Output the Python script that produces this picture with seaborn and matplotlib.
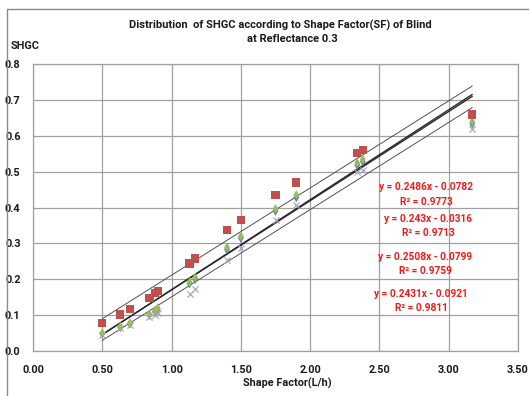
import numpy as np
import pandas as pd
import matplotlib
matplotlib.use("Agg")
import matplotlib.pyplot as plt
import seaborn as sns
from matplotlib.lines import Line2D

sns.set_theme(style="white")
plt.rcParams['font.family'] = ['Roboto', 'DejaVu Sans']

# ---- data ----
sf = [0.50, 0.63, 0.70, 0.84, 0.88, 0.90, 1.13, 1.17, 1.40, 1.50, 1.75, 1.90, 2.34, 2.38, 3.17]
shgc_red = [0.078, 0.102, 0.118, 0.147, 0.162, 0.168, 0.244, 0.258, 0.337, 0.366, 0.434, 0.470, 0.552, 0.561, 0.659]
shgc_blue = [0.048, 0.066, 0.076, 0.100, 0.110, 0.116, 0.188, 0.200, 0.283, 0.315, 0.390, 0.428, 0.518, 0.528, 0.633]
shgc_green = [0.050, 0.068, 0.078, 0.103, 0.113, 0.120, 0.192, 0.205, 0.289, 0.320, 0.396, 0.435, 0.524, 0.534, 0.639]
shgc_x = [0.045, 0.065, 0.072, 0.095, 0.100, 0.105, 0.160, 0.172, 0.253, 0.287, 0.365, 0.406, 0.500, 0.505, 0.618]

# trendline coefficients (slope, intercept) and labels
trend_slopes = [0.2486, 0.243, 0.2508, 0.2431]
trend_intercepts = [-0.0782, -0.0316, -0.0799, -0.0921]
trend_r2 = ["0.9773", "0.9713", "0.9759", "0.9811"]
trend_eq = ["y = 0.2486x - 0.0782", "y = 0.243x - 0.0316", "y = 0.2508x - 0.0799", "y = 0.2431x - 0.0921"]

x_ticks = [0.0, 0.5, 1.0, 1.5, 2.0, 2.5, 3.0, 3.5]
y_ticks = [0.0, 0.1, 0.2, 0.3, 0.4, 0.5, 0.6, 0.7, 0.8]

W, H = 529, 396
fig = plt.figure(figsize=(W / 100, H / 100), dpi=100)
ax = fig.add_axes([33 / W, 1 - 351 / H, (518 - 33) / W, (351 - 64) / H])

grid_c = "#a0a0a0"
ax.set_xlim(0, 3.5)
ax.set_ylim(0, 0.8)
ax.set_xticks(x_ticks)
ax.set_yticks(y_ticks)
ax.grid(True, color=grid_c, linewidth=0.9)
ax.set_axisbelow(True)
for s in ax.spines.values():
    s.set_color(grid_c)
    s.set_linewidth(0.9)

# trendlines
line_x = np.array([min(sf), max(sf)])
lw_list = [1.0, 0.7, 1.0, 0.7]
col_list = ["#2a2a2a", "#505050", "#2a2a2a", "#505050"]
for m, b, lw, c in zip(trend_slopes, trend_intercepts, lw_list, col_list):
    df_l = pd.DataFrame({"x": line_x, "y": m * line_x + b})
    sns.lineplot(data=df_l, x="x", y="y", ax=ax, color=c, linewidth=lw, zorder=2)

# scatter series
sns.scatterplot(x=sf, y=shgc_blue, ax=ax, marker="d", s=24, color="#4F81BD",
                edgecolor="none", zorder=3)
sns.scatterplot(x=sf, y=shgc_x, ax=ax, marker="x", s=20, color="#aaa6c8",
                linewidth=0.9, zorder=3)
sns.scatterplot(x=sf, y=shgc_green, ax=ax, marker="d", s=24, color="#9BBB59",
                edgecolor="none", zorder=4)
sns.scatterplot(x=sf, y=shgc_red, ax=ax, marker="s", s=36, color="#C0504D",
                edgecolor="none", zorder=5)

tick_font = dict(fontsize=7.8, fontweight="bold", color="#1a1a1a")
ax.set_xticklabels([f"{v:.2f}" for v in x_ticks], **tick_font)
ax.set_yticklabels([f"{v:.1f}" for v in y_ticks], **tick_font)
ax.tick_params(axis="both", which="both", direction="out", length=4, width=0.9,
               color=grid_c, pad=6)
ax.tick_params(axis="y", pad=5)
ax.set_xlabel("")
ax.set_ylabel("")

# titles and labels
title_font = dict(fontsize=8, fontweight="bold", color="#1a1a1a")
fig.text(280 / W, 1 - 25 / H, "Distribution  of SHGC according to Shape Factor(SF) of Blind",
         ha="center", va="center", **title_font)
fig.text(292 / W, 1 - 39 / H, "at Reflectance 0.3", ha="center", va="center", **title_font)
fig.text(11 / W, 1 - 46 / H, "SHGC", ha="left", va="center", **tick_font)
fig.text(287 / W, 1 - 383 / H, "Shape Factor(L/h)", ha="center", va="center", **tick_font)

# equation annotations
red_font = dict(fontsize=7.3, fontweight="bold", color="#ee1c1c")
eq_pos = [(426, 187, 202), (428, 219, 233), (425, 257, 271), (421, 294, 308)]
for (cx, y1, y2), eq, r2 in zip(eq_pos, trend_eq, trend_r2):
    fig.text(cx / W, 1 - y1 / H, eq, ha="center", va="center", **red_font)
    fig.text(cx / W, 1 - y2 / H, "R\u00b2 = " + r2, ha="center", va="center", **red_font)

# outer chart border (top & left visible)
fig.add_artist(Line2D([7 / W, 1], [1 - 9 / H, 1 - 9 / H], transform=fig.transFigure,
                      color="#8a8a8a", linewidth=1.0))
fig.add_artist(Line2D([7 / W, 7 / W], [0, 1 - 9 / H], transform=fig.transFigure,
                      color="#8a8a8a", linewidth=1.0))

fig.savefig("out.png", dpi=100)
